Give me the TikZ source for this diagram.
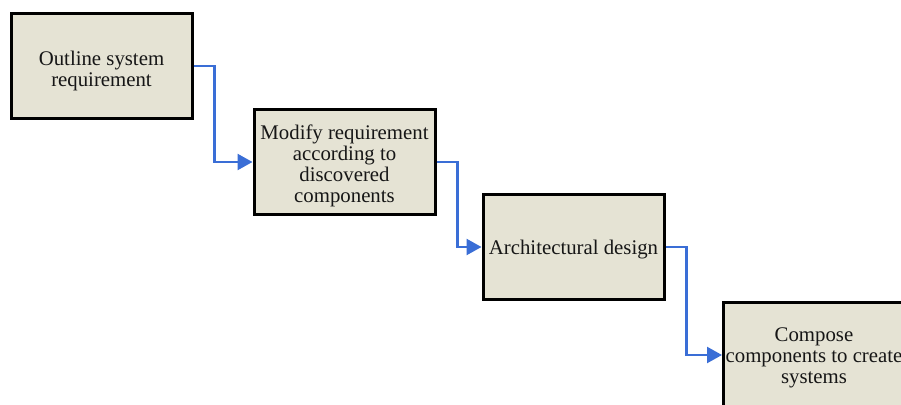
\documentclass[tikz,border=0pt]{standalone}
\usepackage{fontspec}
\setmainfont{Liberation Serif}
\usetikzlibrary{arrows.meta}
\definecolor{boxfill}{HTML}{E5E3D4}
\definecolor{flowblue}{HTML}{3A6ED6}
\definecolor{ink}{HTML}{161616}
\begin{document}
\begin{tikzpicture}[x=1pt,y=-1pt,
  stage/.style={draw=black, line width=3pt, fill=boxfill, minimum width=181pt,
    minimum height=105pt, inner sep=0pt},
  stagetext/.style={inner sep=0pt, align=center, text=ink,
    font=\fontsize{20.8}{21}\selectfont},
  flow/.style={draw=flowblue, line width=2.3pt,
    -{Triangle[length=15pt,width=16pt]}}]
\useasboundingbox (0,0) rectangle (901,404);
\fill[white] (0,0) rectangle (901,404);
\node[stage, label={[stagetext, yshift=-5pt]center:{Outline system\\requirement}}] (b1) at (101.5,66) {};
\node[stage, label={[stagetext, yshift=-4pt]center:{Modify requirement\\according to\\discovered\\components}}] (b2) at (344.5,162) {};
\node[stage, label={[stagetext, yshift=-3pt]center:{Architectural design}}] (b3) at (573.5,247) {};
\node[stage, label={[stagetext, yshift=-3pt]center:{Compose\\components to create\\systems}}] (b4) at (814,355) {};
\draw[flow] (b1.east) -- ++(21,0) |- (b2.west);
\draw[flow] (b2.east) -- ++(21,0) |- (b3.west);
\draw[flow] (b3.east) -- ++(21,0) |- (b4.west);
\end{tikzpicture}
\end{document}
